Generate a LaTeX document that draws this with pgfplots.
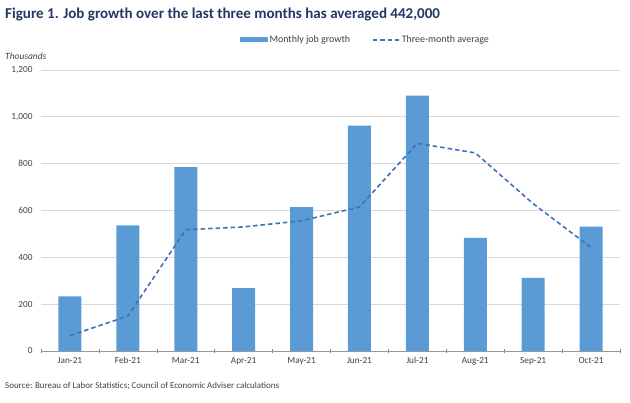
\documentclass[border=0pt]{standalone}
\usepackage{fontspec}
\setmainfont{Carlito}
\usepackage{pgfplots}
\pgfplotsset{compat=1.18}
\definecolor{barblue}{HTML}{5B9BD5}
\definecolor{lineblue}{HTML}{3F72B8}
\definecolor{titleblue}{HTML}{203864}
\definecolor{txtgrey}{HTML}{404040}
\definecolor{gridgrey}{HTML}{D9D9D9}
\begin{document}
\begin{tikzpicture}[x=1bp,y=1bp]
\useasboundingbox (0,0) rectangle (630,402);
\begin{axis}[
  at={(41bp,51bp)}, anchor=south west,
  scale only axis, width=579bp, height=281bp,
  xmin=-0.5, xmax=9.5, ymin=0, ymax=1200,
  xtick={0,...,9},
  xticklabels={Jan-21,Feb-21,Mar-21,Apr-21,May-21,Jun-21,Jul-21,Aug-21,Sep-21,Oct-21},
  minor xtick={-0.5,0.5,...,9.5},
  major tick length=0pt, minor tick length=4bp,
  xtick style={draw=none},
  minor x tick style={draw=gridgrey!60!black, line width=0.6bp},
  every minor tick/.append style={yshift=-2bp},
  ytick={0,200,...,1200},
  ytick style={draw=none},
  /pgf/number format/1000 sep={,},
  /pgf/number format/assume math mode=true,
  ymajorgrids, grid style={gridgrey, line width=0.8bp},
  axis x line*=bottom, axis y line*=left,
  axis line style={draw=gridgrey!70!black, line width=0.8bp},
  x axis line style={-},
  y axis line style={draw=none},
  tick label style={font=\fontsize{9.3}{10}\selectfont, text=txtgrey},
  xticklabel style={yshift=-3bp},
  yticklabel style={xshift=-5bp},
  clip=false,
  legend columns=2,
  legend style={draw=none, fill=none, at={(0.56,1.107)}, anchor=center,
    font=\fontsize{10}{11}\selectfont, text=txtgrey,
    /tikz/every even column/.append style={column sep=20bp}},
]
\addplot[ybar, bar width=23bp, fill=barblue, draw=none,
  legend image code/.code={\fill[barblue] (0bp,-2.5bp) rectangle (28bp,2.5bp);}]
  coordinates {(0,233) (1,536) (2,785) (3,269) (4,614) (5,962) (6,1091) (7,483) (8,312) (9,531)};
\addlegendentry{Monthly job growth}
\addplot[lineblue, line width=1.6bp, dash pattern=on 4.5bp off 3bp,
  legend image code/.code={\draw[lineblue, line width=1.6bp, dash pattern=on 4.5bp off 3bp] (0bp,0bp) -- (26bp,0bp);}]
  coordinates {(0,66) (1,149) (2,518) (3,530) (4,556) (5,615) (6,887) (7,846) (8,629) (9,442)};
\addlegendentry{Three-month average}
\end{axis}
\node[anchor=base west, inner sep=0, text=titleblue, font=\fontsize{15.1}{17}\selectfont\bfseries] at (5,384) {Figure 1. Job growth over the last three months has averaged 442,000};
\node[anchor=base west, inner sep=0, text=txtgrey, font=\fontsize{9.5}{11}\selectfont\itshape] at (5,343) {Thousands};
\node[anchor=base west, inner sep=0, text=txtgrey, font=\fontsize{9}{10}\selectfont] at (5,14) {Source: Bureau of Labor Statistics; Council of Economic Adviser calculations};
\end{tikzpicture}
\end{document}
